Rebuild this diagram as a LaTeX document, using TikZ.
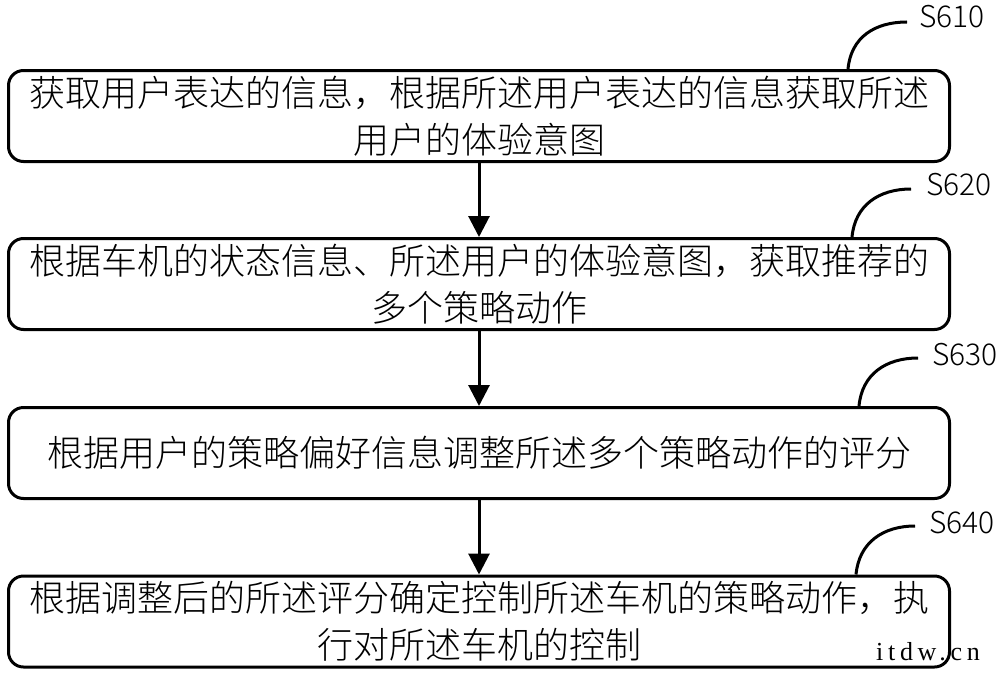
\documentclass[tikz,border=0pt]{standalone}
\usepackage{fontspec}
\setmainfont{Noto Sans CJK SC}[UprightFont=* Light]
\newfontfamily\wmfont[LetterSpace=18]{Liberation Serif}
\usetikzlibrary{arrows.meta}
\tikzset{
  stepbox/.style={draw, line width=3pt, rounded corners=15pt, minimum width=941pt,
    minimum height=91pt, inner sep=0pt, align=center,
    font=\fontsize{36pt}{47pt}\selectfont},
  flow/.style={line width=3pt, -{Triangle[length=21pt,width=21pt]}},
  steplabel/.style={anchor=west, inner sep=0pt, font=\fontsize{30pt}{36pt}\selectfont},
  callout/.style={line width=3pt}
}
\begin{document}
\begin{tikzpicture}[x=1pt,y=-1pt]
\useasboundingbox (0,0) rectangle (1000,677);
\node[stepbox] (b1) at (479,116) {获取用户表达的信息，根据所述用户表达的信息获取所述\\用户的体验意图};
\node[stepbox] (b2) at (479,284) {根据车机的状态信息、所述用户的体验意图，获取推荐的\\多个策略动作};
\node[stepbox] (b3) at (479,453) {根据用户的策略偏好信息调整所述多个策略动作的评分};
\node[stepbox] (b4) at (479,621.5) {根据调整后的所述评分确定控制所述车机的策略动作，执\\行对所述车机的控制};
\draw[flow] (b1) -- (b2);
\draw[flow] (b2) -- (b3);
\draw[flow] (b3) -- (b4);
\node[steplabel] (l1) at (919,17) {S610};
\node[steplabel] (l2) at (926,185) {S620};
\node[steplabel] (l3) at (932,355) {S630};
\node[steplabel] (l4) at (929,523) {S640};
\coordinate (s1) at ([xshift=369pt]b1.north);
\coordinate (s2) at ([xshift=373pt]b2.north);
\coordinate (s3) at ([xshift=380pt]b3.north);
\coordinate (s4) at ([xshift=377pt]b4.north);
\coordinate (e1) at ([xshift=-12pt,yshift=-5pt]l1.west);
\coordinate (e2) at ([xshift=-15pt,yshift=-4pt]l2.west);
\coordinate (e3) at ([xshift=-14pt,yshift=-3pt]l3.west);
\coordinate (e4) at ([xshift=-14pt,yshift=-3pt]l4.west);
\draw[callout] (s1) .. controls +(3,-32) and +(-32,0) .. (e1);
\draw[callout] (s2) .. controls +(3,-32) and +(-32,0) .. (e2);
\draw[callout] (s3) .. controls +(3,-32) and +(-32,0) .. (e3);
\draw[callout] (s4) .. controls +(3,-32) and +(-32,0) .. (e4);
\node[anchor=west, inner sep=0pt, font=\wmfont\fontsize{26pt}{30pt}\selectfont] (wm) at (876,652) {itdw.cn};
\end{tikzpicture}
\end{document}
